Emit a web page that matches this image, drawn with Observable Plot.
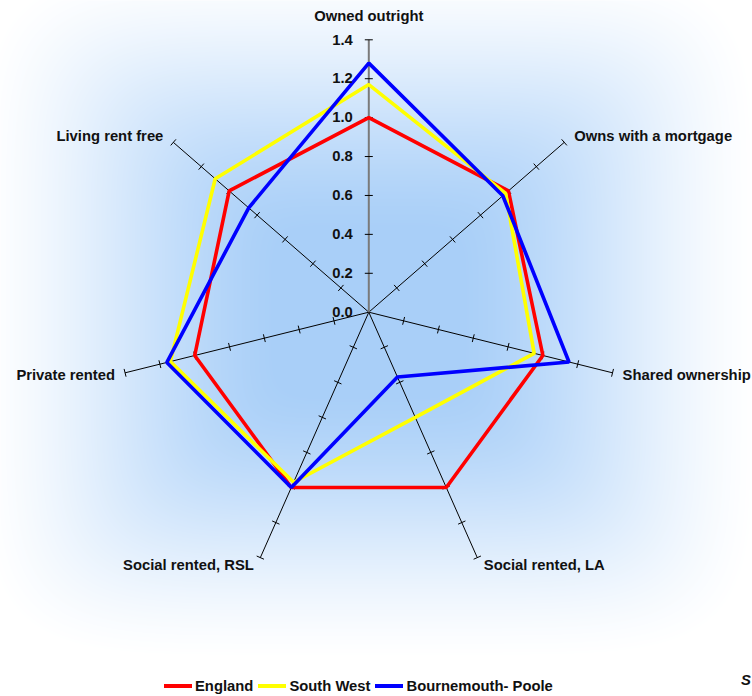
<!DOCTYPE html>
<html>
<head>
<meta charset="utf-8">
<script src="https://cdn.jsdelivr.net/npm/d3@7"></script>
<script src="https://cdn.jsdelivr.net/npm/@observablehq/plot@0.6"></script>
<style>
  html, body { margin: 0; padding: 0; background: #ffffff; }
  #wrap { position: relative; width: 752px; height: 696px; overflow: hidden;
          font-family: "Liberation Sans", Arial, sans-serif; }
  #legend { position: absolute; left: 164px; top: 676px; display: flex; align-items: center;
            font-weight: bold; font-size: 14.8px; color: #111; line-height: 20px; }
  .item { display: flex; align-items: center; margin-right: 5px; }
  .swatch { width: 28px; height: 4px; margin-right: 3px; }
  #src { position: absolute; left: 741px; top: 672px; font-weight: bold; font-style: italic;
         font-size: 14.8px; color: #111; }
</style>
</head>
<body>
<div id="wrap">
  <div id="chart"></div>
  <div id="legend"></div>
  <div id="src">S</div>
</div>
<script>
// Tenure categories, clockwise from the top spoke
const categories = [
  "Owned outright",
  "Owns with a mortgage",
  "Shared ownership",
  "Social rented, LA",
  "Social rented, RSL",
  "Private rented",
  "Living rent free"
];

// Index values (England = 1.0)
const england          = [1.00, 1.00, 1.00, 1.00, 1.00, 1.00, 1.00];
const southWest        = [1.17, 0.98, 0.95, 0.60, 0.97, 1.14, 1.10];
const bournemouthPoole = [1.28, 0.96, 1.15, 0.37, 1.00, 1.16, 0.86];

const seriesNames  = ["England", "South West", "Bournemouth- Poole"];
const seriesValues = [england, southWest, bournemouthPoole];
const seriesColors = ["#ff0000", "#ffff00", "#0000ff"];

// Radial axis ticks
const tickValues = [0.0, 0.2, 0.4, 0.6, 0.8, 1.0, 1.2, 1.4];
const tickLabels = ["0.0", "0.2", "0.4", "0.6", "0.8", "1.0", "1.2", "1.4"];

// ---- layout ----
const W = 752, H = 672;
const CX = 368.3, CY = 311.7;   // centre of the web
const RX = 250, RY = 272.4;     // pixel length of the 1.4 spoke, horizontally / vertically
const MAXV = 1.4;
const kx = RX / MAXV, ky = RY / MAXV;

const n = categories.length;
const angle = i => (2 * Math.PI * i) / n;

const spokes = categories.map((name, i) => ({
  i, name, a: angle(i),
  x: MAXV * Math.sin(angle(i)),
  y: MAXV * Math.cos(angle(i))
}));

// Series vertices
const points = [];
seriesNames.forEach((s, k) => {
  seriesValues[k].forEach((v, i) => {
    points.push({series: s, x: v * Math.sin(angle(i)), y: v * Math.cos(angle(i))});
  });
});

// Small cross ticks, perpendicular to each spoke on screen
const tickHalf = 4;
const ticks = [];
spokes.forEach(sp => {
  const ux = Math.sin(sp.a) * kx, uy = -Math.cos(sp.a) * ky;
  const len = Math.hypot(ux, uy);
  const nx = -uy / len, ny = ux / len;
  const ox = tickHalf * nx / kx, oy = -tickHalf * ny / ky;
  tickValues.forEach(v => {
    if (v === 0) return;
    const px = v * Math.sin(sp.a), py = v * Math.cos(sp.a);
    ticks.push({x1: px - ox, y1: py - oy, x2: px + ox, y2: py + oy});
  });
});

// Soft rectangular blue background
const bgInterp = d3.interpolateRgb("#a9cff8", "#ffffff");
const HW = 376, HH = 335;
function bgColor(x, y) {
  const px = CX + x * kx, py = CY - y * ky;
  const dx = Math.abs(px - CX) / HW, dy = Math.abs(py - CY) / HH;
  const p = 6;
  const t = Math.pow(Math.pow(dx, p) + Math.pow(dy, p), 1 / p);
  let f = (t - 0.25) / 0.78;
  f = Math.max(0, Math.min(1, f));
  f = f * f * (3 - 2 * f) * 0.5 + f * 0.5;
  return bgInterp(f);
}
const bx1 = (0 - CX) / kx, bx2 = (W - CX) / kx;
const by1 = (CY - 0) / ky, by2 = (CY - H) / ky;

const font = "'Liberation Sans', Arial, sans-serif";

const marks = [];
marks.push(Plot.raster({x1: bx1, x2: bx2, y1: by1, y2: by2, fill: bgColor, pixelSize: 1}));

// Spokes
marks.push(Plot.link(spokes.filter(s => s.i !== 0), {
  x1: () => 0, y1: () => 0, x2: "x", y2: "y", stroke: "#000", strokeWidth: 1
}));
marks.push(Plot.link(spokes.filter(s => s.i === 0), {
  x1: () => 0, y1: () => 0, x2: "x", y2: "y", stroke: "#7a7a7a", strokeWidth: 2
}));
marks.push(Plot.link(ticks, {x1: "x1", y1: "y1", x2: "x2", y2: "y2", stroke: "#000", strokeWidth: 1}));

// Series outlines
marks.push(Plot.line(points, {
  x: "x", y: "y", z: "series", stroke: "series",
  curve: "linear-closed", strokeWidth: 3.6, strokeLinejoin: "miter"
}));

// Value labels on the top spoke
marks.push(Plot.text(tickValues, {
  x: () => 0, y: d => d, text: (d, i) => tickLabels[i],
  textAnchor: "end", dx: -16, fontWeight: "bold", fontSize: 14.8, fill: "#111"
}));

// Category labels at the end of each spoke
spokes.forEach(sp => {
  const s = Math.sin(sp.a), c = Math.cos(sp.a);
  const anchor = s > 0.1 ? "start" : s < -0.1 ? "end" : "middle";
  const dx = anchor === "middle" ? 0 : Math.sign(s) * (Math.abs(s) > 0.6 ? 10 : 6.5);
  const dy = sp.i === 0 ? -24 : -9 * c;
  marks.push(Plot.text([sp], {
    x: "x", y: "y", text: "name", textAnchor: anchor, dx, dy,
    fontWeight: "bold", fontSize: 14.8, fill: "#111"
  }));
});

const chart = Plot.plot({
  width: W, height: H,
  marginTop: 0, marginRight: 0, marginBottom: 0, marginLeft: 0,
  style: {fontFamily: font, background: "transparent", overflow: "visible"},
  x: {domain: [-MAXV, MAXV], range: [CX - RX, CX + RX], axis: null},
  y: {domain: [-MAXV, MAXV], range: [CY + RY, CY - RY], axis: null},
  color: {domain: seriesNames, range: seriesColors},
  marks
});
document.getElementById("chart").appendChild(chart);

// Legend row
const legend = d3.select("#legend");
seriesNames.forEach((s, k) => {
  const item = legend.append("div").attr("class", "item");
  item.append("div").attr("class", "swatch").style("background", seriesColors[k]);
  item.append("span").text(s);
});
</script>
</body>
</html>
